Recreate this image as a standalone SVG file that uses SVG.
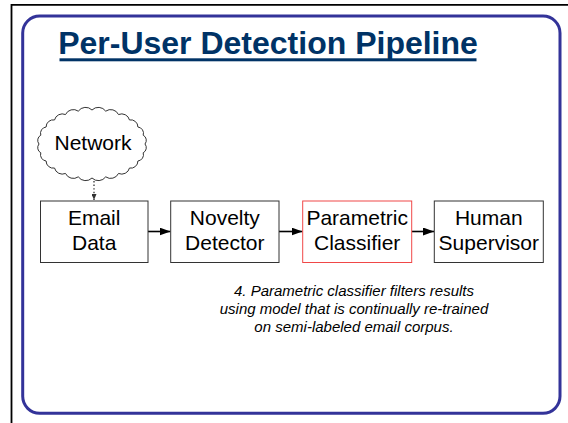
<svg xmlns="http://www.w3.org/2000/svg" width="568" height="423" viewBox="0 0 568 423">
  <style>
    .box { fill: #ffffff; stroke: #333333; stroke-width: 1; }
    .box.hot { stroke: #f04848; }
    .lbl { font-family: "Liberation Sans", Arial, sans-serif; font-size: 21px; fill: #000000; text-anchor: middle; }
    .note { font-family: "Liberation Sans", Arial, sans-serif; font-size: 15px; font-style: italic; fill: #000000; text-anchor: middle; }
    .flow { stroke: #000000; stroke-width: 1.6; fill: none; }
    .dots { stroke: #333333; stroke-width: 1.3; stroke-dasharray: 1.4 2.2; fill: none; }
  </style>
  <defs>
    <marker id="head" viewBox="0 0 11 8" refX="11" refY="4" markerWidth="11" markerHeight="8" markerUnits="userSpaceOnUse" orient="auto">
      <path d="M0,0 L11,4 L0,8 Z" fill="#000000"/>
    </marker>
    <marker id="headSmall" viewBox="0 0 6 5" refX="6" refY="2.5" markerWidth="6" markerHeight="5" markerUnits="userSpaceOnUse" orient="auto">
      <path d="M0,0 L6,2.5 L0,5 Z" fill="#333333"/>
    </marker>
  </defs>

  <rect width="568" height="423" fill="#ffffff"/>

  <!-- slide frame -->
  <path d="M11.5,423 V4.8 H568" fill="none" stroke="#000000" stroke-width="1.8"/>
  <rect x="22.7" y="16" width="537.3" height="397.3" rx="17" ry="17" fill="none" stroke="#333399" stroke-width="3"/>

  <!-- title with its rule -->
  <text x="268" y="54" font-family="'Liberation Sans', Arial, sans-serif" font-size="32" font-weight="bold" fill="#003366" text-anchor="middle">Per-User Detection Pipeline</text>
  <rect x="59.5" y="58.3" width="417" height="3" fill="#003366"/>

  <!-- connectors -->
  <g id="connectors">
    <line class="dots" x1="94" y1="181" x2="94" y2="200" marker-end="url(#headSmall)"/>
    <line class="flow" x1="148" y1="231.5" x2="170.5" y2="231.5" marker-end="url(#head)"/>
    <line class="flow" x1="279" y1="231.5" x2="302.5" y2="231.5" marker-end="url(#head)"/>
    <line class="flow" x1="411.5" y1="231.5" x2="434" y2="231.5" marker-end="url(#head)"/>
  </g>

  <!-- cloud source: scalloped outline of 24 small arcs -->
  <g id="network">
    <path d="M145,144
      A5.8,5.8 0 0 1 143.19,152.8 A6.3,6.3 0 0 1 137.9,161 A7.1,7.1 0 0 1 129.48,168.04
      A8,8 0 0 1 118.5,173.44 A8.6,8.6 0 0 1 105.72,176.84 A9,9 0 0 1 92,178
      A9,9 0 0 1 78.28,176.84 A8.6,8.6 0 0 1 65.5,173.44 A8,8 0 0 1 54.52,168.04
      A7.1,7.1 0 0 1 46.1,161 A6.3,6.3 0 0 1 40.81,152.8 A5.8,5.8 0 0 1 39,144
      A5.8,5.8 0 0 1 40.81,135.2 A6.3,6.3 0 0 1 46.1,127 A7.1,7.1 0 0 1 54.52,119.96
      A8,8 0 0 1 65.5,114.56 A8.6,8.6 0 0 1 78.28,111.16 A9,9 0 0 1 92,110
      A9,9 0 0 1 105.72,111.16 A8.6,8.6 0 0 1 118.5,114.56 A8,8 0 0 1 129.48,119.96
      A7.1,7.1 0 0 1 137.9,127 A6.3,6.3 0 0 1 143.19,135.2 A5.8,5.8 0 0 1 145,144 Z" fill="#ffffff" stroke="#333333" stroke-width="1"/>
    <text class="lbl" x="93" y="150" font-size="20">Network</text>
  </g>

  <g id="email-data">
    <rect class="box" x="40.5" y="201" width="107.5" height="61.5"/>
    <text class="lbl" x="94.2" y="225">Email</text>
    <text class="lbl" x="94.2" y="249.5">Data</text>
  </g>

  <g id="novelty-detector">
    <rect class="box" x="170.7" y="201" width="108.3" height="61.5"/>
    <text class="lbl" x="224.8" y="225">Novelty</text>
    <text class="lbl" x="224.8" y="249.5">Detector</text>
  </g>

  <g id="parametric-classifier">
    <rect class="box hot" x="302.7" y="201" width="109" height="61.5"/>
    <text class="lbl" x="357.2" y="225">Parametric</text>
    <text class="lbl" x="357.2" y="249.5">Classifier</text>
  </g>

  <g id="human-supervisor">
    <rect class="box" x="434.3" y="201" width="109" height="61.5"/>
    <text class="lbl" x="488.8" y="225">Human</text>
    <text class="lbl" x="488.8" y="249.5">Supervisor</text>
  </g>

  <!-- step note -->
  <g id="note">
    <text class="note" x="354" y="296">4. Parametric classifier filters results</text>
    <text class="note" x="354" y="314">using model that is continually re-trained</text>
    <text class="note" x="354" y="332">on semi-labeled email corpus.</text>
  </g>
</svg>
